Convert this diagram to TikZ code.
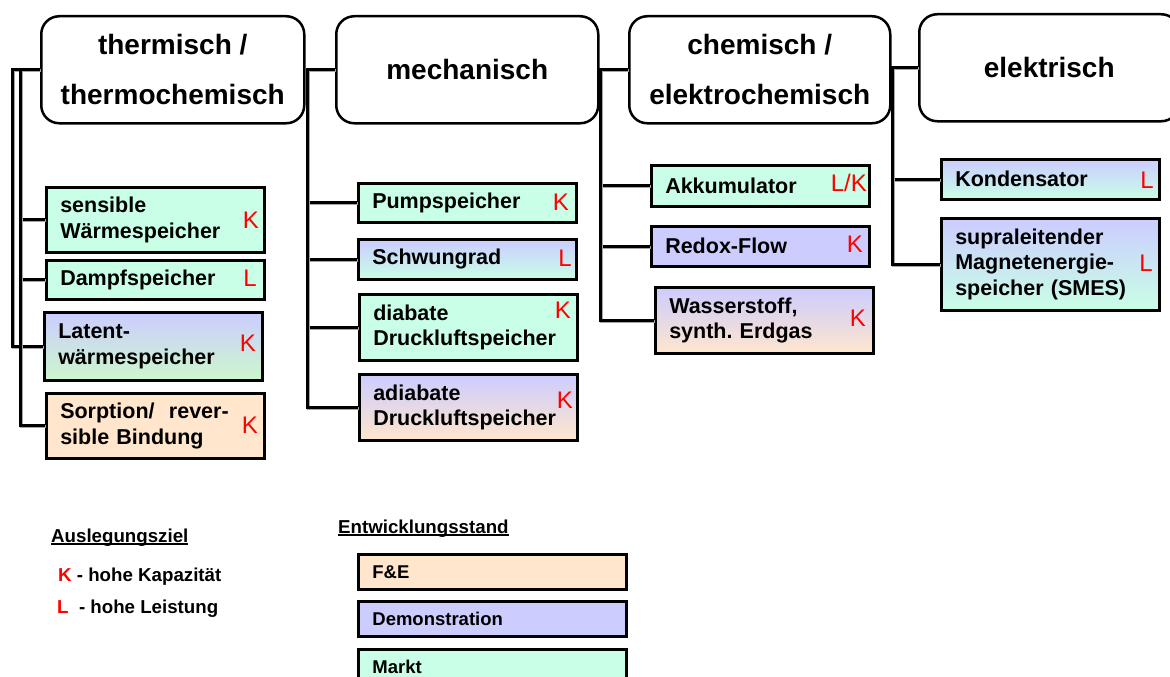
\documentclass[tikz,border=0pt]{standalone}
\usepackage{fontspec}
\setmainfont{Liberation Sans}
\definecolor{mint}{HTML}{C8FFE6}
\definecolor{lav}{HTML}{CCCCFF}
\definecolor{peach}{HTML}{FFE6CC}
\definecolor{lgreen}{HTML}{CCF8CC}
\newcommand{\myul}[1]{\setbox0=\hbox{#1}\rlap{\rule[-3pt]{\wd0}{1.6pt}}\box0}
\tikzset{
  cat/.style={draw, line width=2.5pt, rounded corners=18pt, anchor=north west,
    minimum width=263pt, minimum height=107pt, align=center, fill=white,
    font=\fontsize{28}{50}\selectfont\bfseries},
  leaf/.style={draw, line width=2.5pt, anchor=north west, inner xsep=14pt,
    text width=190pt, align=left, font=\fontsize{21.5}{25.5}\selectfont\bfseries},
  klab/.style={anchor=east, inner sep=0pt, text=red, font=\fontsize{24}{24}\selectfont},
  conn/.style={line width=3pt, preaction={draw=black!35, line width=3pt,
    transform canvas={shift={(1pt,-1.2pt)}}}},
  legbox/.style={draw, line width=2.8pt, anchor=north west, minimum width=268pt,
    minimum height=35pt, inner xsep=14pt, text width=240pt, align=left,
    font=\fontsize{18.5}{20}\selectfont\bfseries},
  legtxt/.style={anchor=base west, inner sep=0pt, font=\fontsize{18.7}{20}\selectfont\bfseries}
}
\begin{document}
\begin{tikzpicture}[x=1pt, y=-1pt]
\useasboundingbox (0,0) rectangle (1170,677);

% category boxes
\node[cat] (therm) at (40,15) {thermisch /\\thermochemisch};
\node[cat, minimum width=262pt] (mech) at (335,15) {mechanisch};
\node[cat, minimum width=261pt] (chem) at (628,15) {chemisch /\\elektrochemisch};
\node[cat, minimum width=260pt] (elek) at (918,13) {elektrisch};

% thermisch leaves
\node[leaf, minimum height=65pt, fill=mint] (sens) at (45,186) {sensible\\Wärmespeicher};
\node[leaf, minimum height=39pt, fill=mint] (dampf) at (45,259) {Dampfspeicher};
\node[leaf, minimum height=68pt, top color=lav, bottom color=lgreen] (latent) at (43,311) {Latent-\\wärmespeicher};
\node[leaf, minimum height=65pt, fill=peach] (sorp) at (45,392) {Sorption/~ rever-\\sible Bindung};

% mechanisch leaves
\node[leaf, minimum height=39pt, fill=mint] (pump) at (357,182) {Pumpspeicher};
\node[leaf, minimum height=40pt, top color=lav, bottom color=mint] (schw) at (357,238) {Schwungrad};
\node[leaf, minimum height=66pt, fill=mint] (diab) at (358,293) {diabate\\Druckluftspeicher};
\node[leaf, minimum height=66pt, top color=lav, bottom color=peach] (adiab) at (358,373) {adiabate\\Druckluftspeicher};

% chemisch leaves
\node[leaf, minimum height=41pt, fill=mint] (akku) at (650,164) {Akkumulator};
\node[leaf, minimum height=40pt, fill=lav] (redox) at (650,225) {Redox-Flow};
\node[leaf, minimum height=66pt, top color=lav, bottom color=peach] (wasser) at (654,286) {Wasserstoff,\\synth.\ Erdgas};

% elektrisch leaves
\node[leaf, minimum height=40pt, top color=lav, bottom color=mint] (kond) at (940,158) {Kondensator};
\node[leaf, minimum height=92pt, top color=lav, bottom color=mint] (smes) at (940,217) {supraleitender\\Magnetenergie-\\speicher (SMES)};

% K / L labels
\node[klab] (ksens) at (259,220) {K};
\node[klab] (kdampf) at (257,278) {L};
\node[klab] (klatent) at (256,343) {K};
\node[klab] (ksorp) at (258,425) {K};
\node[klab] (kpump) at (569,202) {K};
\node[klab] (kschw) at (572,258) {L};
\node[klab] (kdiab) at (571,310) {K};
\node[klab] (kadiab) at (573,400) {K};
\node[klab] (kakku) at (867,183) {L/K};
\node[klab] (kredox) at (863,244) {K};
\node[klab] (kwasser) at (866,318) {K};
\node[klab] (kkond) at (1154,180) {L};
\node[klab] (ksmes) at (1153,263) {L};

% connectors
\draw[conn] (therm.west) -- ++(-28,0) |- (latent.west);
\draw[conn] (therm.west) -- ++(-20,0) |- (sens.west);
\draw[conn] (therm.west) -- ++(-20,0) |- (dampf.west);
\draw[conn] (therm.west) -- ++(-20,0) |- (sorp.west);

\draw[conn] (mech.west) -- ++(-28,0) |- (pump.west);
\draw[conn] (mech.west) -- ++(-28,0) |- (schw.west);
\draw[conn] (mech.west) -- ++(-28,0) |- (diab.west);
\draw[conn] (mech.west) -- ++(-28,0) |- (adiab.west);

\draw[conn] (chem.west) -- ++(-28,0) |- (akku.west);
\draw[conn] (chem.west) -- ++(-28,0) |- (redox.west);
\draw[conn] (chem.west) -- ++(-28,0) |- (wasser.west);

\draw[conn] (elek.west) -- ++(-26,0) |- (kond.west);
\draw[conn] (elek.west) -- ++(-26,0) |- (smes.west);

% legend
\node[legtxt] (ausl) at (51,542) {\myul{Auslegungsziel}};
\node[legtxt] (lk) at (58,581) {\textcolor{red}{K} - hohe Kapazität};
\node[legtxt] (ll) at (57,613) {\textcolor{red}{L}~ - hohe Leistung};
\node[legtxt] (entw) at (338,533) {\myul{Entwicklungsstand}};
\node[legbox, fill=peach] (fe) at (357,553) {F\&E};
\node[legbox, fill=lav] (demo) at (357,600) {Demonstration};
\node[legbox, fill=mint] (markt) at (357,648) {Markt};
\end{tikzpicture}
\end{document}
